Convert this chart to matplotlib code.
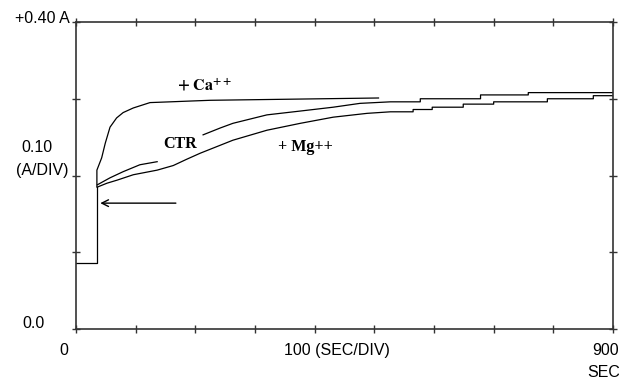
import numpy as np
import matplotlib
matplotlib.use("Agg")
import matplotlib.pyplot as plt

# time in seconds, current in A
base_t = [0, 34, 35, 35]
base_i = [0.086, 0.086, 0.086, 0.185]

ca_t = [35, 35, 43, 49, 57, 68, 79, 96, 124, 158, 191, 225, 507]
ca_i = [0.185, 0.207, 0.223, 0.242, 0.263, 0.275, 0.282, 0.288, 0.295,
        0.296, 0.297, 0.298, 0.301]

ctr1_t = [36, 57, 79, 107, 136]
ctr1_i = [0.188, 0.197, 0.205, 0.214, 0.218]
ctr2_t = [213, 242, 263, 320, 376, 431, 476, 527, 577, 577, 678, 678, 758, 758, 900]
ctr2_i = [0.253, 0.262, 0.268, 0.279, 0.284, 0.289, 0.294, 0.296, 0.296,
          0.300, 0.300, 0.305, 0.305, 0.308, 0.308]

mg_t = [36, 52, 69, 96, 136, 163, 185, 208, 263, 320, 376, 431, 488, 527,
        565, 565, 597, 597, 649, 649, 700, 700, 790, 790, 867, 867, 900]
mg_i = [0.185, 0.190, 0.194, 0.201, 0.207, 0.213, 0.221, 0.229, 0.246,
        0.259, 0.268, 0.276, 0.281, 0.283, 0.283, 0.286, 0.286, 0.289,
        0.289, 0.293, 0.293, 0.296, 0.296, 0.300, 0.300, 0.304, 0.304]

x_ticks = np.arange(0, 1000, 100)
y_ticks = [0.0, 0.1, 0.2, 0.3, 0.4]

fig = plt.figure(figsize=(6.19, 3.82), dpi=100)
ax = fig.add_axes([0.1228, 0.1387, 0.8675, 0.8037])

lw = 0.9
ax.plot(base_t, base_i, color="black", lw=lw)
ax.plot(ca_t, ca_i, color="black", lw=lw)
ax.plot(ctr1_t, ctr1_i, color="black", lw=lw)
ax.plot(ctr2_t, ctr2_i, color="black", lw=lw)
ax.plot(mg_t, mg_i, color="black", lw=lw)

ax.annotate("", xy=(36, 0.164), xytext=(172, 0.164),
            arrowprops=dict(arrowstyle="->", color="black", lw=1.0,
                            mutation_scale=12))

plt.rcParams["mathtext.fontset"] = "stix"
ax.text(216, 0.318, r"$\mathbf{+\ Ca^{++}}$", fontsize=11.5, ha="center", va="center")
ax.text(174, 0.241, "CTR", family="Liberation Serif", weight="bold",
        fontsize=11.5, ha="center", va="center")
ax.text(384, 0.237, "+ Mg++", family="Liberation Serif", weight="bold",
        fontsize=11.5, ha="center", va="center")

ax.set_xlim(0, 900)
ax.set_ylim(0, 0.4)
ax.set_xticks(x_ticks)
ax.set_yticks(y_ticks)
ax.tick_params(direction="inout", length=6, width=1, color="#333333",
               top=True, right=True, labelbottom=False, labelleft=False)
for s in ax.spines.values():
    s.set_color("#333333")
    s.set_linewidth(1.2)

sans = "Liberation Sans"
fs = 11.5
ax.text(-10, 0.404, "+0.40 A", family=sans, fontsize=fs, ha="right", va="center", clip_on=False)
ax.text(-65, 0.237, "0.10", family=sans, fontsize=fs, ha="center", va="center", clip_on=False)
ax.text(-57, 0.207, "(A/DIV)", family=sans, fontsize=fs, ha="center", va="center", clip_on=False)
ax.text(-72, 0.007, "0.0", family=sans, fontsize=fs, ha="center", va="center", clip_on=False)
ax.text(-20, -0.028, "0", family=sans, fontsize=fs, ha="center", va="center", clip_on=False)
ax.text(438, -0.028, "100 (SEC/DIV)", family=sans, fontsize=fs, ha="center", va="center", clip_on=False)
ax.text(888, -0.028, "900", family=sans, fontsize=fs, ha="center", va="center", clip_on=False)
ax.text(884, -0.057, "SEC", family=sans, fontsize=fs, ha="center", va="center", clip_on=False)

fig.savefig("out.png", dpi=100)
